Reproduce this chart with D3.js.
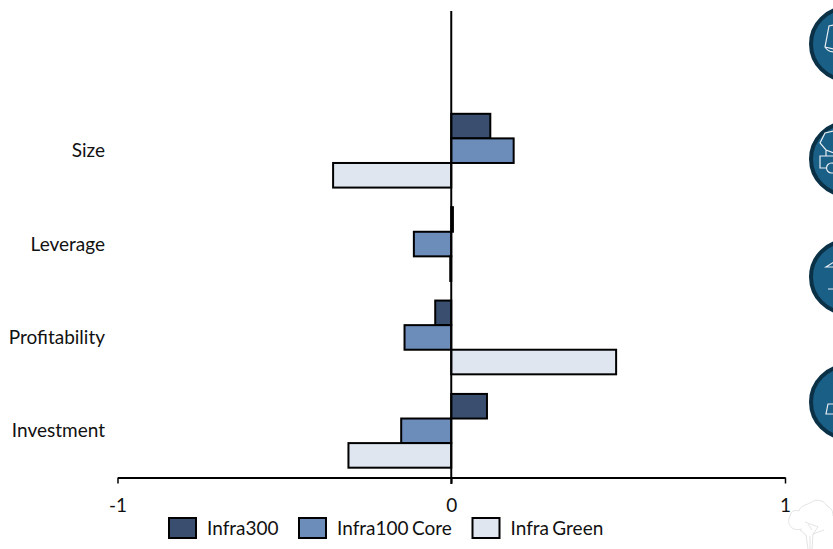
<!DOCTYPE html>
<html>
<head>
<meta charset="utf-8">
<script src="https://cdn.jsdelivr.net/npm/d3@7"></script>
<style>
  html, body { margin: 0; padding: 0; background: #fff; overflow: hidden; }
  text { font-family: Lato, sans-serif; fill: #111; }
</style>
</head>
<body>
<svg id="chart" width="833" height="549"></svg>
<script>
// Chart data
const categories = ["Size", "Leverage", "Profitability", "Investment"];
const seriesNames = ["Infra300", "Infra100 Core", "Infra Green"];
const infra300 = [0.117, 0.005, -0.048, 0.107];
const infra100Core = [0.187, -0.112, -0.14, -0.15];
const infraGreen = [-0.354, -0.003, 0.494, -0.308];
const xTicks = [-1, 0, 1];
const colors = ["#3a4f70", "#6c8cb9", "#dfe6f0"];

const svg = d3.select("#chart");
const seriesValues = [infra300, infra100Core, infraGreen];

const x = d3.scaleLinear().domain([-1, 1]).range([117.5, 785]);
const y = d3.scaleBand().domain(categories).range([104, 477.5]).paddingInner(0.21).paddingOuter(0.105);
const yInner = d3.scaleBand().domain(seriesNames).range([0, y.bandwidth()]);

// Bars, one group per series
seriesNames.forEach((name, i) => {
    svg.append("g").selectAll("rect")
        .data(categories.map((c, j) => ({ category: c, value: seriesValues[i][j] })))
        .enter().append("rect")
        .attr("x", d => Math.min(x(0), x(d.value)))
        .attr("y", d => y(d.category) + yInner(name))
        .attr("width", d => Math.abs(x(d.value) - x(0)))
        .attr("height", yInner.bandwidth())
        .attr("fill", colors[i])
        .attr("stroke", "#000")
        .attr("stroke-width", 2);
});

// Vertical zero line
svg.append("line")
    .attr("x1", x(0)).attr("x2", x(0))
    .attr("y1", 11).attr("y2", 484)
    .attr("stroke", "#000")
    .attr("stroke-width", 2);

// X axis, plain hyphen on the negative tick as in the source
const xAxis = svg.append("g")
    .attr("transform", "translate(0,477.5)")
    .call(d3.axisBottom(x).tickValues(xTicks).tickFormat(d => String(d)).tickSize(6).tickSizeOuter(0));
xAxis.selectAll("path, line").attr("stroke", "#000").attr("stroke-width", 1.5);
xAxis.select(".domain").attr("stroke-width", 2);
xAxis.selectAll("text")
    .attr("y", 21)
    .attr("dy", "0.71em")
    .style("font-family", "Lato, sans-serif")
    .style("font-size", "19px")
    .attr("fill", "#111");

// Category labels
svg.append("g").selectAll("text")
    .data(categories)
    .enter().append("text")
    .attr("x", 105)
    .attr("y", d => y(d) + y.bandwidth() / 2)
    .attr("dy", "0.35em")
    .attr("text-anchor", "end")
    .style("font-size", "19px")
    .text(d => d);

// Legend
const legendX = [169, 299, 472.5];
const legend = svg.append("g").selectAll("g")
    .data(seriesNames)
    .enter().append("g")
    .attr("transform", (d, i) => `translate(${legendX[i]},518)`);
legend.append("rect")
    .attr("width", 27)
    .attr("height", 20)
    .attr("fill", (d, i) => colors[i])
    .attr("stroke", "#000")
    .attr("stroke-width", 2);
legend.append("text")
    .attr("x", 38)
    .attr("y", 10)
    .attr("dy", "0.35em")
    .style("font-size", "19px")
    .style("word-spacing", "-1.5px")
    .text(d => d);

// Round icons cut off by the right edge
const iconCentres = [44, 159, 277, 402];
svg.append("g").selectAll("circle")
    .data(iconCentres)
    .enter().append("circle")
    .attr("cx", 847)
    .attr("cy", d => d)
    .attr("r", 36)
    .attr("fill", "#1a5f86")
    .attr("stroke", "#0b3147")
    .attr("stroke-width", 4);

const iconPaths = [
    "M834 25L829 26L825 47Q828 52 834 52M825 47L834 49",
    "M834 131L825 133L820 143L826 150L834 153M826 150V156H820V168H826M826 156H834",
    "M834 262L826 267H834M828 289H834",
    "M834 404H828L826 414H834"
];
svg.append("g").selectAll("path")
    .data(iconPaths)
    .enter().append("path")
    .attr("d", d => d)
    .attr("fill", "none")
    .attr("stroke", "#e8eef3")
    .attr("stroke-width", 1.2);
svg.append("circle")
    .attr("cx", 831.5).attr("cy", 168).attr("r", 5)
    .attr("fill", "none").attr("stroke", "#e8eef3").attr("stroke-width", 1.2);

// Faint tree watermark, bottom right corner
svg.append("path")
    .attr("d", "M810 549V536M812 549L813 534L818 527M808 549L806 535L800 530M813 534L824 530" +
        "M802 529C792 532 786 524 790 516C791 510 796 510 799 511C800 506 806 505 810 503" +
        "C816 498 824 500 827 506C832 508 833 512 833 516M818 527L805 522M812 530L808 524")
    .attr("fill", "none")
    .attr("stroke", "#dcdcdc")
    .attr("stroke-width", 0.8);
</script>
</body>
</html>
